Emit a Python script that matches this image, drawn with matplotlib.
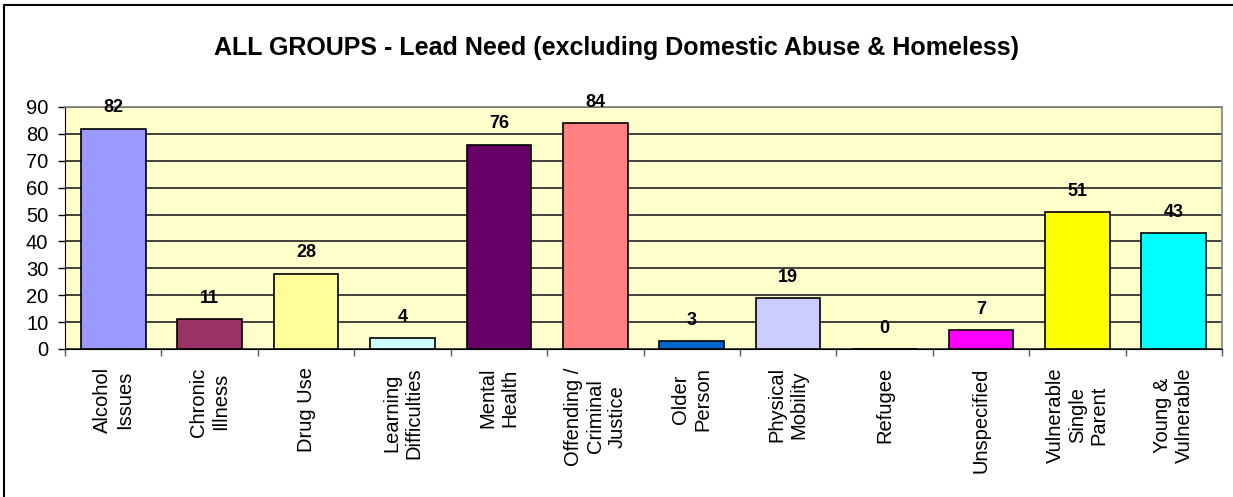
import matplotlib.pyplot as plt
from matplotlib.patches import Rectangle

plt.rcParams["font.family"] = ["Liberation Sans", "DejaVu Sans"]

categories = ["Alcohol\nIssues", "Chronic\nIllness", "Drug Use",
              "Learning\nDifficulties", "Mental\nHealth",
              "Offending /\nCriminal\nJustice", "Older\nPerson",
              "Physical\nMobility", "Refugee", "Unspecified",
              "Vulnerable\nSingle\nParent", "Young &\nVulnerable"]
counts = [82, 11, 28, 4, 76, 84, 3, 19, 0, 7, 51, 43]
colors = ["#9999FF", "#993366", "#FFFF99", "#CCFFFF", "#660066", "#FF8080",
          "#0066CC", "#CCCCFF", "#000080", "#FF00FF", "#FFFF00", "#00FFFF"]
title = "ALL GROUPS - Lead Need (excluding Domestic Abuse & Homeless)"

W, H = 1233, 497
fig = plt.figure(figsize=(W / 100, H / 100), dpi=100)
# chart frame, runs off the right/bottom edge
fig.patches.append(Rectangle((4 / W, -0.1), 1.2, 1 - 5 / H + 0.1,
                             transform=fig.transFigure, fill=False,
                             edgecolor="black", linewidth=1.5))

left, right, top, bottom = 65, 1222, 107, 349
ax = fig.add_axes([left / W, 1 - bottom / H, (right - left) / W,
                   (bottom - top) / H])
ax.set_facecolor("#FFFFCC")

x = list(range(len(counts)))
ax.bar(x, counts, width=0.67, color=colors, edgecolor="black",
       linewidth=1.2, zorder=3)
for xi, v in zip(x, counts):
    ax.annotate(str(v), (xi, v), xytext=(0, 15), textcoords="offset points",
                ha="center", va="center", fontsize=13, fontweight="bold",
                zorder=4)

ax.set_xlim(-0.5, len(counts) - 0.5)
ax.set_ylim(0, 90)
ax.set_yticks(range(0, 91, 10))
ax.tick_params(axis="y", labelsize=14.5, length=5, width=1, pad=7)
ax.yaxis.grid(True, color="#333333", linewidth=1.3, zorder=1)

# category boundaries get the tick marks, names sit in between
ax.set_xticks([i - 0.5 for i in range(len(counts) + 1)])
ax.set_xticklabels([])
ax.tick_params(axis="x", length=5, width=1, color="#555555")
for xi, name in zip(x, categories):
    ax.text(xi, -0.075, name, transform=ax.get_xaxis_transform(),
            rotation=90, ha="center", va="top", multialignment="center",
            fontsize=14.5, linespacing=1.2)

for side in ["top", "right"]:
    ax.spines[side].set_color("#808080")
    ax.spines[side].set_linewidth(1.2)
ax.spines["left"].set_color("black")
ax.spines["bottom"].set_color("black")

fig.text(0.5, 1 - 48 / H, title, ha="center", va="center", fontsize=18,
         fontweight="bold")

fig.savefig("out.png", dpi=100)
